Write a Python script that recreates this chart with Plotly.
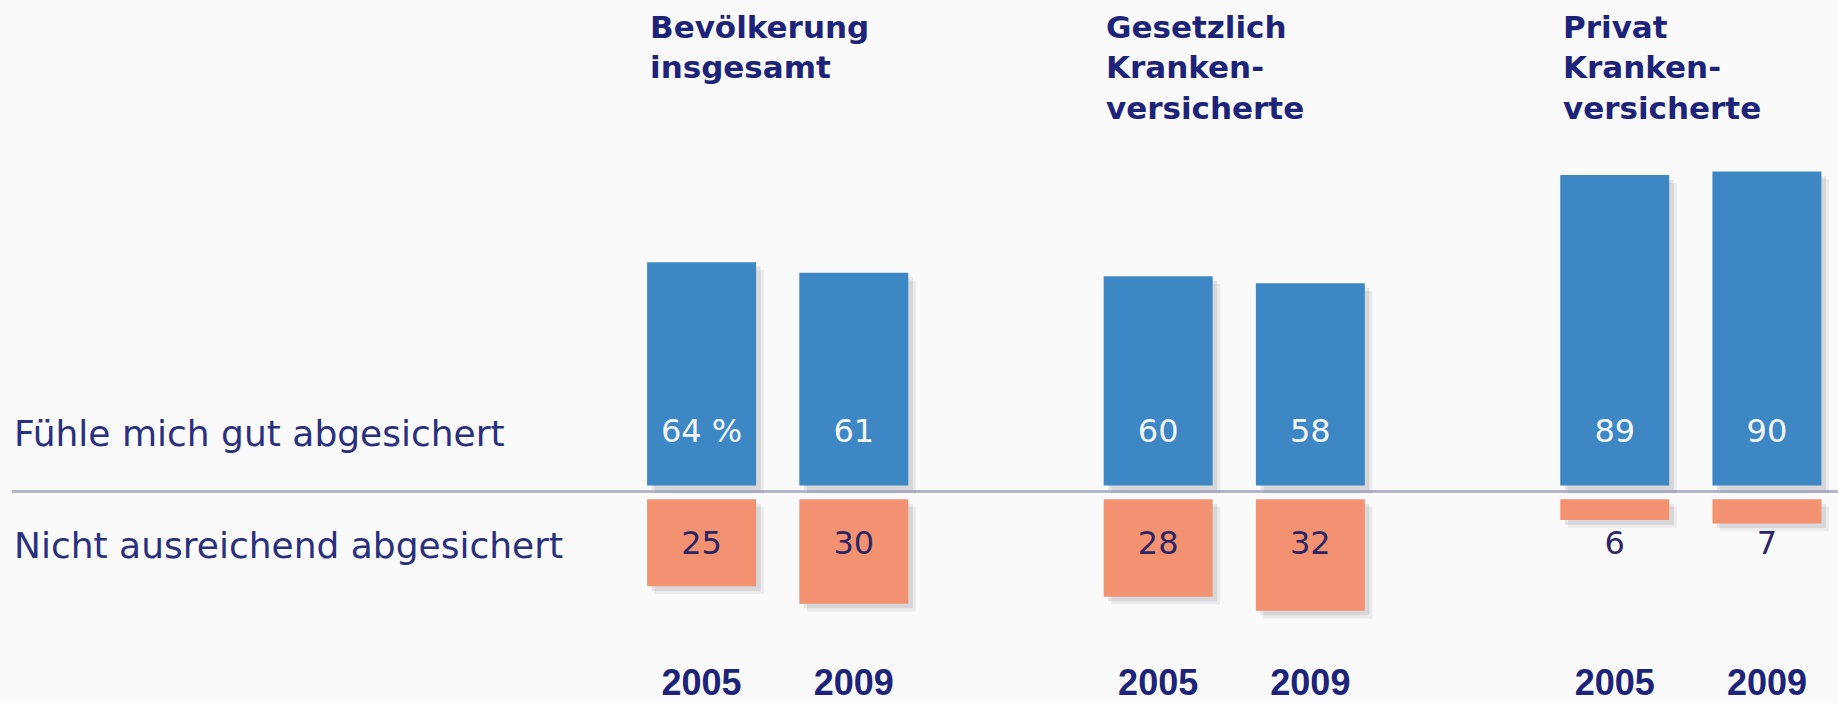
import plotly.graph_objects as go

# ---- data ----
groups = ["Bevölkerung<br>insgesamt", "Gesetzlich<br>Kranken-<br>versicherte", "Privat<br>Kranken-<br>versicherte"]
years = ["2005", "2009"]
good = [64, 61, 60, 58, 89, 90]          # Fühle mich gut abgesichert
bad = [25, 30, 28, 32, 6, 7]             # Nicht ausreichend abgesichert
row_labels = ["Fühle mich gut abgesichert", "Nicht ausreichend abgesichert"]

# ---- styling ----
BLUE = "#3c87c4"
ORANGE = "#f29270"
NAVY = "#1e237a"
ROWTXT = "#2b2f7f"
BG = "#fafafa"
BAR_W = 0.716
BLUE_BASE = 1.7
ORANGE_BASE = -2.2
ROW_Y = [16.5, -15.5]

# x positions: group g, year j -> g*3 + j
xpos = [g * 3 + j for g in range(len(groups)) for j in range(len(years))]
year_ticks = [years[j] for g in range(len(groups)) for j in range(len(years))]

fig = go.Figure()

# soft drop shadows (two layers)
for dx, dy, a in [(0.05, 2.2, 0.07), (0.03, 1.3, 0.10)]:
    fig.add_trace(go.Bar(x=xpos, y=good, base=BLUE_BASE - dy, width=BAR_W,
                         offset=-BAR_W / 2 + dx, marker_color=f"rgba(40,40,60,{a})",
                         marker_line_width=0, hoverinfo="skip", showlegend=False))
    fig.add_trace(go.Bar(x=xpos, y=[-v for v in bad], base=ORANGE_BASE - dy, width=BAR_W,
                         offset=-BAR_W / 2 + dx, marker_color=f"rgba(40,40,60,{a})",
                         marker_line_width=0, hoverinfo="skip", showlegend=False))

fig.add_trace(go.Bar(x=xpos, y=good, base=BLUE_BASE, width=BAR_W, offset=-BAR_W / 2,
                     marker_color=BLUE, marker_line_width=0, name=row_labels[0],
                     showlegend=False))
fig.add_trace(go.Bar(x=xpos, y=[-v for v in bad], base=ORANGE_BASE, width=BAR_W, offset=-BAR_W / 2,
                     marker_color=ORANGE, marker_line_width=0, name=row_labels[1],
                     showlegend=False))

# value labels
good_txt = [f"{v} %" if i == 0 else str(v) for i, v in enumerate(good)]
bad_txt = [str(v) for v in bad]
fig.add_trace(go.Scatter(x=xpos, y=[ROW_Y[0]] * len(xpos), mode="text", text=good_txt,
                         textfont=dict(family="DejaVu Sans", size=32, color="#f4f6ff"),
                         hoverinfo="skip", showlegend=False))
fig.add_trace(go.Scatter(x=xpos, y=[ROW_Y[1]] * len(xpos), mode="text", text=bad_txt,
                         textfont=dict(family="DejaVu Sans", size=32, color="#2d2466"),
                         hoverinfo="skip", showlegend=False))

# baseline
fig.add_shape(type="line", xref="paper", yref="y", x0=0.0065, x1=1, y0=0, y1=0,
              line=dict(color="#b3b5cb", width=3), layer="below")

# row labels
for lab, yy in zip(row_labels, ROW_Y):
    fig.add_annotation(text=lab, xref="paper", yref="y", x=0.0065, y=yy,
                       xanchor="left", yanchor="middle", showarrow=False,
                       font=dict(family="DejaVu Sans", size=36, color=ROWTXT))

# group headers
for g, name in enumerate(groups):
    fig.add_annotation(text=name, xref="x", yref="paper", x=g * 3 - BAR_W / 2 + 0.005, y=1,
                       xanchor="left", yanchor="top", yshift=-7, align="left",
                       showarrow=False,
                       font=dict(family="DejaVu Sans", size=31, color=NAVY, weight="bold"))

fig.update_layout(
    width=1838, height=703,
    margin=dict(l=0, r=0, t=0, b=40),
    paper_bgcolor=BG, plot_bgcolor=BG,
    barmode="overlay",
    xaxis=dict(range=[-4.61, 7.467], tickvals=xpos, ticktext=year_ticks,
               showgrid=False, zeroline=False, showline=False, ticks="",
               ticklabelstandoff=5,
               tickfont=dict(family="Liberation Sans", size=36, color=NAVY, weight="bold")),
    yaxis=dict(range=[-46.3, 140.9], visible=False, showgrid=False, zeroline=False),
)

fig.write_html("out.html", config={"displayModeBar": False},
               post_script="document.body.style.margin='0';document.body.style.padding='0';")
